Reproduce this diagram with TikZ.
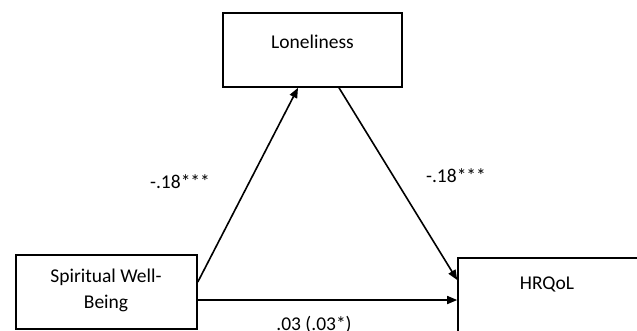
\documentclass[tikz,border=0pt]{standalone}
\usepackage{fontspec}
\setmainfont{Carlito}
\usetikzlibrary{arrows.meta}
\begin{document}
\begin{tikzpicture}[x=1pt,y=-1pt,
  box/.style={draw,line width=1.6pt,rectangle,inner sep=0pt},
  lbl/.style={font=\fontsize{19.5}{26}\selectfont,inner sep=0pt},
  arr/.style={line width=1.6pt,-{Triangle[length=10pt,width=8pt]}}]
\clip (0,0) rectangle (637,330);
\fill[white] (0,0) rectangle (637,330);
\node[box,minimum width=179pt,minimum height=74pt] (lone) at (312.5,50) {};
\node[box,minimum width=181pt,minimum height=74pt] (sw) at (106.5,292) {};
\node[box,minimum width=180pt,minimum height=90pt] (hr) at (548,303) {};
\node[lbl] (lonet) at (312.5,42) {Loneliness};
\node[lbl,align=center] (swt) at (106,290) {Spiritual Well-\\Being};
\node[lbl] (hrt) at (547,284) {HRQoL};
\draw[arr] ([yshift=10pt]sw.east) -- ([xshift=-14.5pt]lone.south);
\draw[arr] ([xshift=26.5pt]lone.south) -- ([yshift=23pt]hr.west);
\draw[arr] ([yshift=-8pt]sw.east) -- ([yshift=3pt]hr.west);
\node[lbl] (l1) at (180,182) {-.18***};
\node[lbl] (l2) at (456,176) {-.18***};
\node[lbl] (l3) at (314,325) {.03 (.03*)};
\end{tikzpicture}
\end{document}
